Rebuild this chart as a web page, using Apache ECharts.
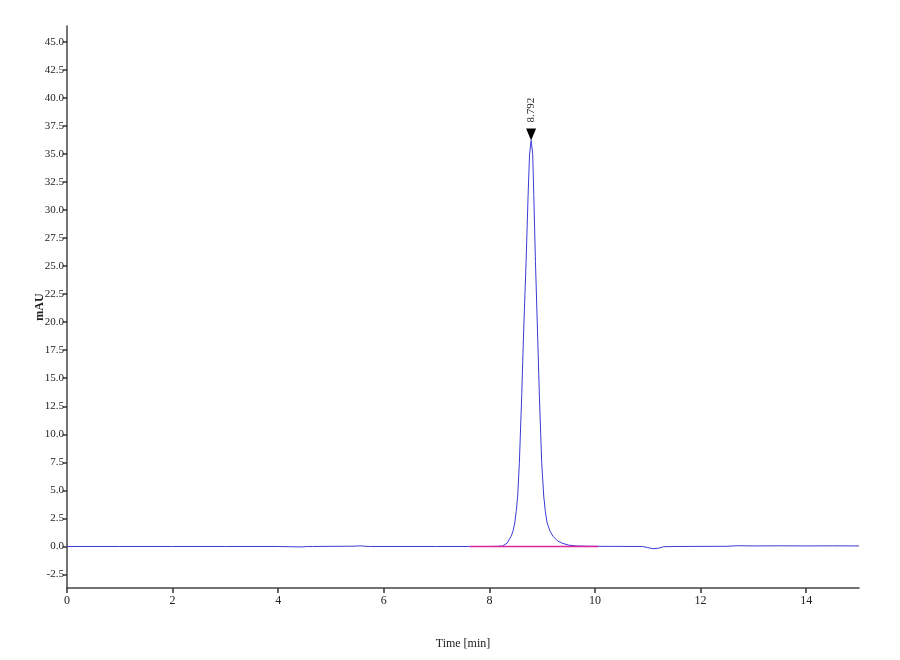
<!DOCTYPE html>
<html>
<head>
<meta charset="utf-8">
<script src="https://cdn.jsdelivr.net/npm/echarts@6/dist/echarts.min.js"></script>
<style>html,body{margin:0;padding:0;background:#fff}#c{width:900px;height:660px}</style>
</head>
<body>
<div id="c"></div>
<script>
// Chromatogram trace: time (min) and absorbance (mAU)
const traceTime = [0, 1, 2, 3, 4, 4.45, 4.55, 4.65, 5.45, 5.55, 5.65, 5.75, 7, 7.6, 8.0, 8.15, 8.25, 8.335, 8.41, 8.45, 8.48, 8.51, 8.536, 8.568, 8.612, 8.65, 8.695, 8.733, 8.76, 8.79, 8.82, 8.841, 8.872, 8.91, 8.947, 8.99, 9.029, 9.06, 9.093, 9.15, 9.207, 9.29, 9.377, 9.5, 9.65, 9.9, 10.3, 10.9, 11.0, 11.1, 11.2, 11.3, 11.5, 12.5, 12.7, 13.0, 13.5, 14.0, 14.5, 15.0];
const traceMAU  = [0, 0, 0, 0, 0, -0.04, 0, 0, 0.03, 0.06, 0.02, 0, 0, 0, 0.0, 0.01, 0.05, 0.3, 0.9, 1.4, 2.1, 3.2, 4.5, 7.5, 13.4, 19.4, 25.4, 31.3, 34.9, 36.2, 35.0, 31.3, 25.4, 19.4, 13.4, 7.5, 4.5, 3.1, 2.1, 1.35, 0.9, 0.5, 0.3, 0.12, 0.05, 0.02, 0.01, 0, -0.1, -0.2, -0.15, -0.02, 0, 0.02, 0.07, 0.05, 0.06, 0.05, 0.06, 0.05];
// Integration baseline
const baseTime = [7.63, 10.06];
const baseMAU  = [0, 0];
// Peak annotation
const peakTime = 8.79;
const peakMAU = 36.2;
const peakLabel = '8.792';
// Tick labels
const yTicks = [-2.5, 0, 2.5, 5, 7.5, 10, 12.5, 15, 17.5, 20, 22.5, 25, 27.5, 30, 32.5, 35, 37.5, 40, 42.5, 45];
const xTicks = [0, 2, 4, 6, 8, 10, 12, 14];

const font = 'Liberation Serif';
const trace = traceTime.map((t, i) => [t, traceMAU[i]]);
const base = baseTime.map((t, i) => [t, baseMAU[i]]);

const chart = echarts.init(document.getElementById('c'));
chart.setOption({
  animation: false,
  backgroundColor: '#fff',
  grid: { left: 67, right: 41, top: 26, bottom: 72 },
  xAxis: {
    type: 'value', min: 0, max: 15,
    name: 'Time [min]', nameLocation: 'middle', nameGap: 50,
    nameTextStyle: { fontFamily: font, fontSize: 12, color: '#222' },
    axisLine: { show: true, onZero: false, lineStyle: { color: '#444', width: 1.5 } },
    axisTick: { show: true, length: 5, inside: false, customValues: xTicks, lineStyle: { color: '#333', width: 1.5 } },
    axisLabel: { customValues: xTicks, fontFamily: font, fontSize: 12, color: '#222', margin: 7 },
    splitLine: { show: false }
  },
  yAxis: {
    type: 'value', min: -3.7, max: 46.4,
    name: 'mAU', nameLocation: 'middle', nameGap: 21, nameRotate: 90, nameMoveOverlap: false,
    nameTextStyle: { fontFamily: font, fontSize: 12, fontWeight: 'bold', color: '#222' },
    axisLine: { show: true, onZero: false, lineStyle: { color: '#444', width: 1.5 } },
    axisTick: { show: true, length: 4, customValues: yTicks, lineStyle: { color: '#333', width: 1.5 } },
    axisLabel: { customValues: yTicks, fontFamily: font, fontSize: 11, color: '#222', margin: 3,
      formatter: v => v.toFixed(1) },
    splitLine: { show: false }
  },
  series: [
    {
      type: 'line', data: trace, showSymbol: false, symbol: 'none',
      lineStyle: { color: '#3a3ad6', width: 1 },
      z: 3,
      markPoint: {
        silent: true,
        data: [{
          coord: [peakTime, peakMAU],
          symbol: 'triangle', symbolRotate: 180, symbolSize: [10, 12], symbolOffset: [0, -6],
          itemStyle: { color: '#000' },
          label: { show: true, formatter: peakLabel, position: 'top', distance: 6, rotate: 90,
            align: 'left', verticalAlign: 'middle', fontFamily: font, fontSize: 11, color: '#222' }
        }]
      }
    },
    {
      type: 'line', data: base, showSymbol: false, symbol: 'none',
      lineStyle: { color: '#e0259c', width: 1.5 }, z: 4
    }
  ]
});
</script>
</body>
</html>
